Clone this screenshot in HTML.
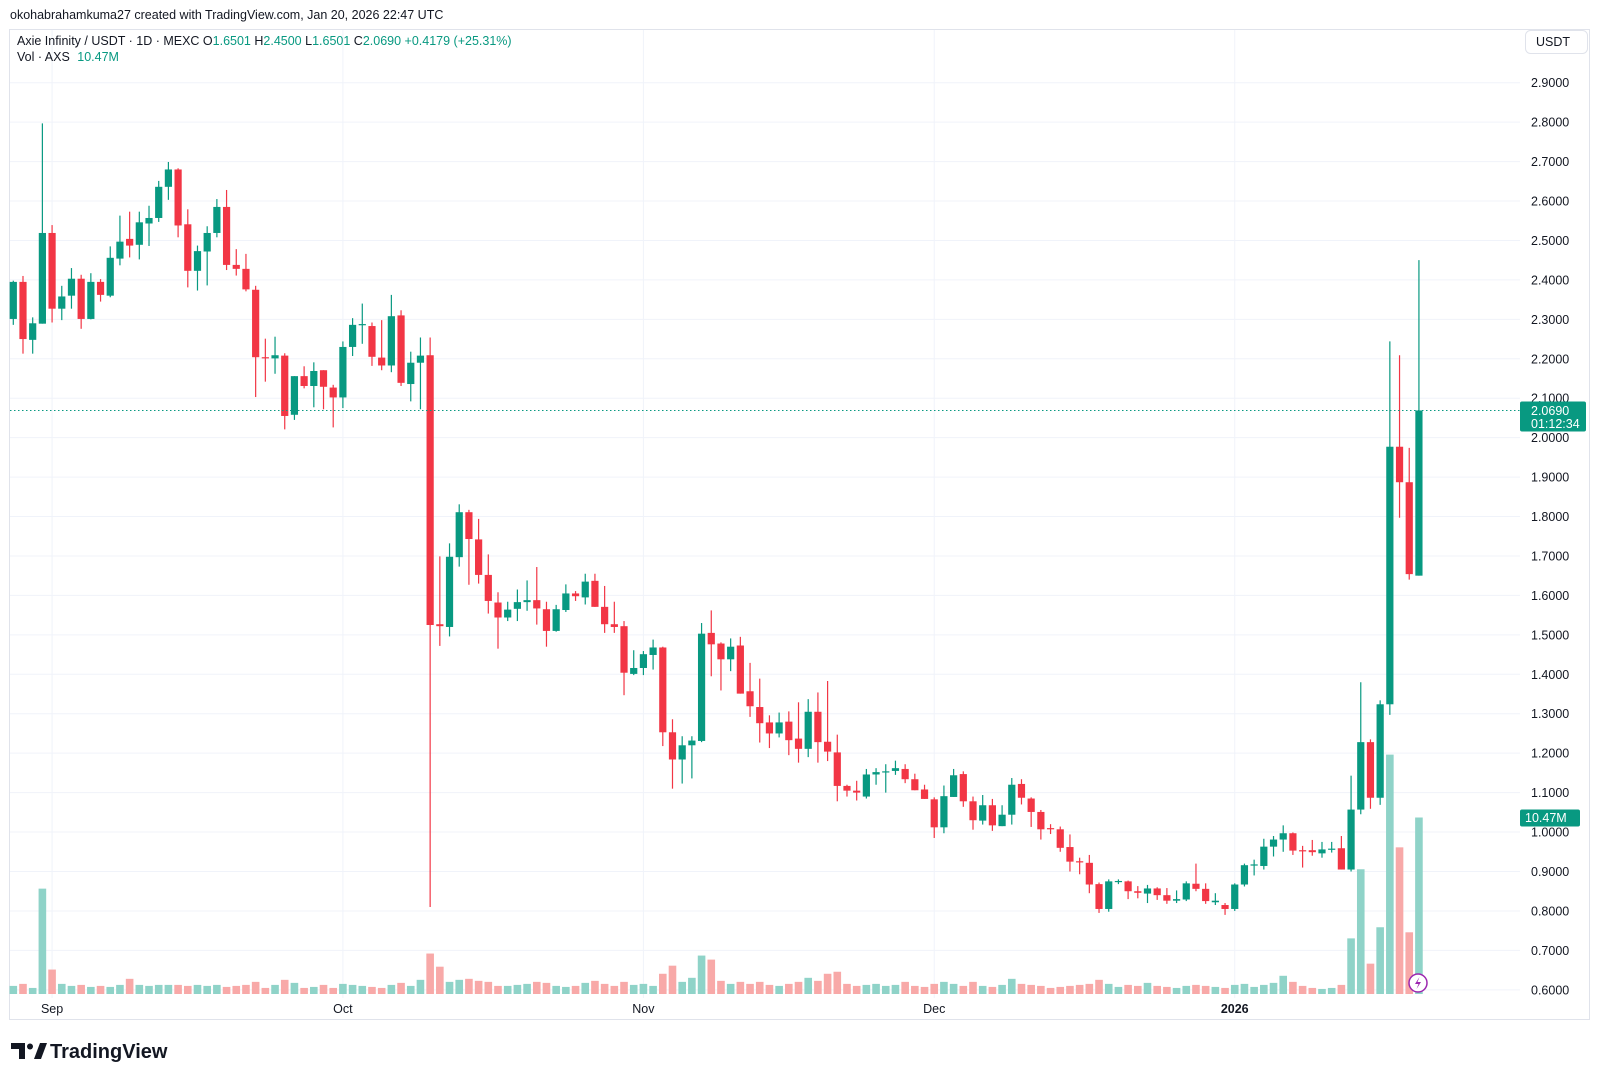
<!DOCTYPE html>
<html><head><meta charset="utf-8"><style>
html,body{margin:0;padding:0;background:#fff;}
body{width:1600px;height:1080px;overflow:hidden;font-family:"Liberation Sans",sans-serif;}
svg text{font-family:"Liberation Sans",sans-serif;}
</style></head><body>
<svg id="chart" width="1600" height="1080" viewBox="0 0 1600 1080" xmlns="http://www.w3.org/2000/svg">
<rect x="0" y="0" width="1600" height="1080" fill="#fff"/>
<text x="10" y="19" font-size="12.5" fill="#131722">okohabrahamkuma27 created with TradingView.com, Jan 20, 2026 22:47 UTC</text>
<rect x="9.5" y="29.5" width="1580" height="990" fill="none" stroke="#e0e3eb"/>
<g id="grid"></g>
<g id="vols"></g>
<g id="candles"></g>
<g id="axis"></g>
<g id="taxis"></g>
<text x="17" y="45" font-size="12.5" fill="#131722">Axie Infinity / USDT · 1D · MEXC <tspan fill="#131722">O</tspan><tspan fill="#089981">1.6501</tspan> <tspan fill="#131722">H</tspan><tspan fill="#089981">2.4500</tspan> <tspan fill="#131722">L</tspan><tspan fill="#089981">1.6501</tspan> <tspan fill="#131722">C</tspan><tspan fill="#089981">2.0690 +0.4179 (+25.31%)</tspan></text>
<text x="17" y="61" font-size="12.5" fill="#131722">Vol · AXS <tspan fill="#089981" dx="4">10.47M</tspan></text>
<g>
<rect x="1525.5" y="30.5" width="62" height="23" rx="5" fill="#fff" stroke="#e0e3eb"/>
<text x="1536" y="46" font-size="12.5" fill="#131722">USDT</text></g>
<g>
<circle cx="1418" cy="983" r="9" fill="#fff" stroke="#9c27b0" stroke-width="1.5"/>
<path d="M1419.5 977 L1415 984 L1418.5 984 L1416.5 989 L1421 982 L1417.5 982 Z" fill="#9c27b0"/></g>
<g>
<path d="M11 1043 h14 v16 h-6 v-10 h-8 z" fill="#131722"/>
<circle cx="30" cy="1046.5" r="3" fill="#131722"/>
<path d="M34 1059 l6 -16 h7 l-6 16 z" fill="#131722"/>
<text x="50" y="1058" font-size="20" font-weight="bold" fill="#131722">TradingView</text></g>
</svg>
<script>
const opens=[2.301,2.395,2.248,2.289,2.519,2.327,2.360,2.403,2.301,2.395,2.360,2.454,2.504,2.489,2.543,2.557,2.636,2.680,2.541,2.423,2.472,2.519,2.585,2.438,2.428,2.375,2.204,2.201,2.208,2.058,2.156,2.131,2.171,2.127,2.102,2.230,2.286,2.283,2.203,2.183,2.310,2.136,2.190,2.209,1.527,1.520,1.697,1.811,1.742,1.652,1.582,1.544,1.566,1.583,1.588,1.565,1.510,1.563,1.605,1.595,1.637,1.571,1.527,1.522,1.401,1.416,1.449,1.468,1.253,1.184,1.220,1.231,1.505,1.478,1.438,1.473,1.357,1.317,1.278,1.250,1.280,1.237,1.211,1.305,1.229,1.202,1.117,1.105,1.090,1.146,1.152,1.155,1.160,1.134,1.108,1.083,1.012,1.089,1.147,1.078,1.029,1.068,1.015,1.044,1.122,1.085,1.051,1.010,1.007,0.962,0.926,0.922,0.868,0.805,0.873,0.875,0.850,0.844,0.857,0.840,0.826,0.829,0.869,0.856,0.822,0.815,0.805,0.867,0.916,0.914,0.963,0.981,0.997,0.954,0.954,0.946,0.956,0.959,0.905,1.057,1.228,1.087,1.324,1.977,1.887,1.6501];
const highs=[2.398,2.410,2.305,2.797,2.539,2.385,2.430,2.413,2.417,2.402,2.485,2.563,2.573,2.573,2.588,2.651,2.699,2.683,2.579,2.487,2.536,2.605,2.628,2.478,2.466,2.385,2.251,2.256,2.214,2.156,2.181,2.191,2.171,2.134,2.244,2.303,2.340,2.292,2.298,2.362,2.323,2.218,2.254,2.254,1.699,1.732,1.831,1.817,1.794,1.704,1.608,1.584,1.615,1.638,1.672,1.584,1.576,1.628,1.611,1.655,1.655,1.624,1.584,1.535,1.461,1.459,1.488,1.470,1.286,1.243,1.243,1.530,1.562,1.481,1.491,1.495,1.429,1.389,1.296,1.303,1.306,1.329,1.337,1.354,1.383,1.247,1.120,1.130,1.160,1.162,1.172,1.181,1.172,1.148,1.120,1.088,1.118,1.160,1.154,1.090,1.094,1.084,1.068,1.137,1.134,1.088,1.056,1.020,1.014,0.994,0.935,0.942,0.872,0.880,0.880,0.877,0.863,0.866,0.860,0.858,0.852,0.875,0.920,0.870,0.845,0.820,0.870,0.920,0.930,0.983,0.990,1.017,0.999,0.965,0.980,0.975,0.975,0.990,1.143,1.380,1.235,1.334,2.244,2.209,1.974,2.450];
const lows=[2.286,2.213,2.213,2.289,2.292,2.298,2.327,2.276,2.300,2.345,2.356,2.437,2.457,2.452,2.486,2.547,2.603,2.508,2.381,2.373,2.386,2.508,2.425,2.411,2.371,2.103,2.142,2.162,2.021,2.045,2.125,2.077,2.072,2.026,2.075,2.207,2.238,2.182,2.171,2.166,2.131,2.092,2.072,0.810,1.472,1.496,1.673,1.627,1.630,1.554,1.465,1.535,1.535,1.561,1.526,1.470,1.508,1.558,1.586,1.577,1.571,1.505,1.505,1.347,1.398,1.398,1.412,1.218,1.110,1.123,1.136,1.228,1.395,1.359,1.408,1.351,1.292,1.227,1.213,1.240,1.195,1.176,1.190,1.176,1.180,1.078,1.090,1.080,1.085,1.120,1.100,1.145,1.124,1.106,1.084,0.985,0.997,1.089,1.064,1.006,1.019,1.003,1.015,1.019,1.070,1.013,0.981,0.995,0.950,0.900,0.893,0.845,0.795,0.798,0.868,0.830,0.832,0.820,0.828,0.818,0.820,0.825,0.850,0.818,0.815,0.790,0.800,0.862,0.890,0.905,0.938,0.950,0.942,0.910,0.940,0.935,0.948,0.905,0.900,1.045,1.059,1.069,1.297,1.797,1.640,1.6501];
const closes=[2.395,2.250,2.290,2.519,2.327,2.358,2.403,2.301,2.395,2.362,2.456,2.497,2.487,2.546,2.557,2.636,2.680,2.538,2.423,2.473,2.519,2.585,2.438,2.428,2.376,2.204,2.202,2.209,2.055,2.156,2.131,2.169,2.129,2.102,2.230,2.286,2.288,2.205,2.183,2.308,2.139,2.190,2.208,1.525,1.522,1.698,1.811,1.743,1.652,1.586,1.544,1.564,1.583,1.588,1.567,1.510,1.565,1.605,1.598,1.635,1.571,1.527,1.520,1.404,1.416,1.451,1.468,1.253,1.184,1.220,1.232,1.503,1.476,1.438,1.470,1.351,1.319,1.276,1.250,1.278,1.233,1.211,1.305,1.228,1.204,1.117,1.105,1.100,1.146,1.152,1.154,1.162,1.134,1.106,1.084,1.012,1.091,1.144,1.078,1.030,1.068,1.017,1.044,1.120,1.087,1.051,1.007,1.008,0.960,0.925,0.924,0.867,0.805,0.875,0.876,0.850,0.846,0.857,0.840,0.826,0.830,0.870,0.856,0.825,0.826,0.805,0.867,0.916,0.918,0.963,0.981,0.997,0.953,0.952,0.949,0.956,0.958,0.905,1.057,1.228,1.087,1.324,1.977,1.887,1.654,2.069];
const volumes=[0.48,0.6,0.36,6.25,1.45,0.6,0.48,0.54,0.42,0.48,0.42,0.54,0.9,0.54,0.48,0.54,0.54,0.54,0.48,0.54,0.48,0.54,0.42,0.48,0.54,0.72,0.36,0.54,0.84,0.66,0.36,0.42,0.54,0.36,0.6,0.54,0.48,0.42,0.36,0.54,0.66,0.48,0.84,2.4,1.62,0.72,0.84,0.9,0.78,0.72,0.48,0.48,0.54,0.6,0.72,0.66,0.48,0.42,0.48,0.66,0.78,0.6,0.48,0.72,0.54,0.6,0.48,1.2,1.68,0.72,0.96,2.28,2.04,0.78,0.6,0.72,0.6,0.72,0.54,0.48,0.6,0.72,0.96,0.78,1.2,1.32,0.6,0.48,0.54,0.6,0.48,0.54,0.72,0.48,0.42,0.6,0.72,0.6,0.48,0.72,0.48,0.42,0.54,0.9,0.6,0.54,0.48,0.36,0.42,0.48,0.54,0.6,0.84,0.6,0.42,0.54,0.48,0.66,0.48,0.42,0.36,0.48,0.54,0.48,0.42,0.36,0.54,0.6,0.42,0.54,0.66,1.08,0.72,0.48,0.36,0.3,0.36,0.54,3.3,7.4,1.8,3.96,14.2,8.7,3.66,10.47];
const priceTicks=[2.9,2.8,2.7,2.6,2.5,2.4,2.3,2.2,2.1,2.0,1.9,1.8,1.7,1.6,1.5,1.4,1.3,1.2,1.1,1.0,0.9,0.8,0.7,0.6];
const timeTickIdx=[4,34,65,95,126];
const timeTickLabels=["Sep","Oct","Nov","Dec","2026"];
const lastPrice=2.069;
const lastVolume=10.47;

const NS="http://www.w3.org/2000/svg";
function yP(p){return 82.7+(2.9-p)*394.4;}
function xI(i){return 13.3+i*9.694;}
const VBASE=994, VSCALE=176.5/10.47;
function yV(v){return VBASE-v*VSCALE;}
function mk(tag,attrs,parent){const e=document.createElementNS(NS,tag);for(const k in attrs)e.setAttribute(k,attrs[k]);parent.appendChild(e);return e;}
const G="#089981",R="#f23645";
const grid=document.getElementById('grid');
priceTicks.forEach(p=>{const l=mk('line',{x1:10,x2:1520,y1:yP(p),y2:yP(p),stroke:'#f0f3fa','stroke-width':1},grid);

});
timeTickIdx.forEach(i=>{const l=mk('line',{x1:xI(i),x2:xI(i),y1:30,y2:998,stroke:'#f0f3fa','stroke-width':1},grid);

});
const axis=document.getElementById('axis');
priceTicks.forEach(p=>{const t=mk('text',{x:1531,y:yP(p)+4.5,'font-size':12.5,fill:'#131722'},axis);t.textContent=p.toFixed(4);

});
const taxis=document.getElementById('taxis');
timeTickIdx.forEach((i,k)=>{const t=mk('text',{x:xI(i),y:1013,'font-size':12.5,fill:'#131722','text-anchor':'middle','font-weight':k===4?'bold':'normal'},taxis);t.textContent=timeTickLabels[k];

});
const vg=document.getElementById('vols');
volumes.forEach((v,i)=>{const up=closes[i]>=opens[i];const r=mk('rect',{x:xI(i)-3.8,y:yV(v),width:7.6,height:VBASE-yV(v),fill:up?'#8fd3c8':'#f8a9a8'},vg);

});
const cg=document.getElementById('candles');
opens.forEach((o,i)=>{const c=closes[i];const up=c>=o;const col=up?G:R;const x=xI(i);
const g=mk('g',{},cg);


mk('line',{x1:x,x2:x,y1:yP(highs[i]),y2:yP(lows[i]),stroke:col,'stroke-width':1.2},g);
const top=yP(Math.max(o,c)),bot=yP(Math.min(o,c));
mk('rect',{x:x-3.6,y:top,width:7.2,height:Math.max(1.2,bot-top),fill:col},g);});
const pl=mk('line',{x1:10,x2:1520,y1:yP(lastPrice),y2:yP(lastPrice),stroke:G,'stroke-width':1,'stroke-dasharray':'1.5 2.5'},cg);


const lb=mk('g',{},axis);


const ly=yP(lastPrice);
mk('rect',{x:1520,y:ly-9,width:66,height:30,rx:2,fill:G},lb);
mk('text',{x:1531,y:ly+4.5,'font-size':12.5,fill:'#fff'},lb).textContent=lastPrice.toFixed(4);
mk('text',{x:1531,y:ly+17.5,'font-size':12.5,fill:'#fff'},lb).textContent="01:12:34";
const vb=mk('g',{},axis);


const vy=yV(lastVolume);
mk('rect',{x:1520,y:vy-8,width:60,height:17,rx:2,fill:G},vb);
mk('text',{x:1525,y:vy+4.5,'font-size':12.5,fill:'#fff'},vb).textContent=lastVolume.toFixed(2)+"M";
</script>
</body></html>
